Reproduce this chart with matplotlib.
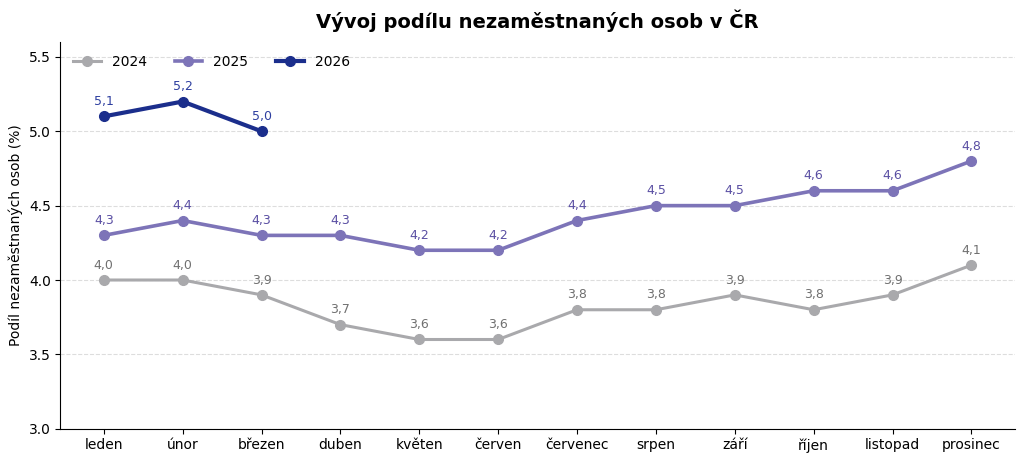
import matplotlib
matplotlib.use("Agg")
import matplotlib.pyplot as plt

months = ["leden", "únor", "březen", "duben", "květen", "červen", "červenec",
          "srpen", "září", "říjen", "listopad", "prosinec"]
y2024 = [4.0, 4.0, 3.9, 3.7, 3.6, 3.6, 3.8, 3.8, 3.9, 3.8, 3.9, 4.1]
y2025 = [4.3, 4.4, 4.3, 4.3, 4.2, 4.2, 4.4, 4.5, 4.5, 4.6, 4.6, 4.8]
y2026 = [5.1, 5.2, 5.0]

series = [
    ("2024", y2024, "#a9a9ac", "#707070", 2.2),
    ("2025", y2025, "#7d74b8", "#5a4fa3", 2.6),
    ("2026", y2026, "#1b2e8c", "#2e3fa0", 3.0),
]

fig, ax = plt.subplots(figsize=(10.24, 4.62), dpi=100)
x = list(range(len(months)))

for name, vals, col, lcol, lw in series:
    xs = x[:len(vals)]
    ax.plot(xs, vals, color=col, lw=lw, marker="o", ms=7, label=name, zorder=3)
    for xi, v in zip(xs, vals):
        ax.annotate(f"{v:.1f}".replace(".", ","), (xi, v), xytext=(0, 6),
                    textcoords="offset points", ha="center", va="bottom",
                    fontsize=9, color=lcol)

ax.set_xticks(x)
ax.set_xticklabels(months, fontsize=10)
ax.set_ylim(3.0, 5.6)
ax.set_yticks([3.0, 3.5, 4.0, 4.5, 5.0, 5.5])
ax.tick_params(axis="y", labelsize=10)
ax.set_ylabel("Podíl nezaměstnaných osob (%)", fontsize=10)
ax.set_title("Vývoj podílu nezaměstnaných osob v ČR", fontsize=14,
             fontweight="bold", pad=10)
ax.grid(axis="y", ls="--", color="#dddddd", lw=0.8)
ax.set_axisbelow(True)
ax.spines["top"].set_visible(False)
ax.spines["right"].set_visible(False)
ax.legend(loc="upper left", ncol=3, frameon=False, fontsize=10,
          borderaxespad=0.5, handlelength=2.0)

fig.subplots_adjust(left=0.059, right=0.991, top=0.909, bottom=0.072)
fig.savefig("out.png", dpi=100)
